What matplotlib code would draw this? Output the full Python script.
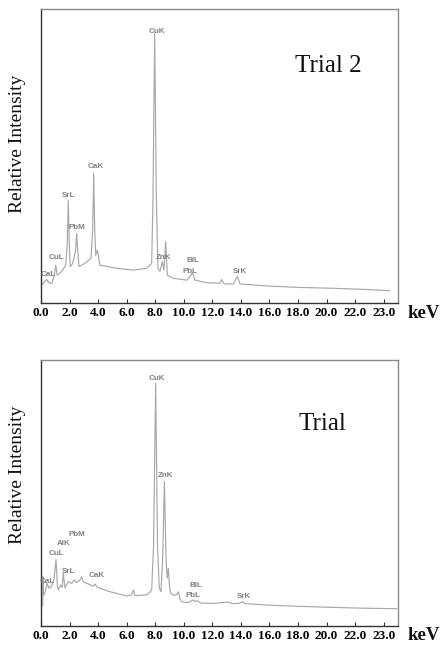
import matplotlib
matplotlib.use("Agg")
import matplotlib.pyplot as plt

# ---------------- data ----------------
energy_top = [0.05, 0.20, 0.40, 0.55, 0.75, 0.91, 1.03, 1.14, 1.45, 1.73, 1.84, 1.91, 1.98,
              2.05, 2.22, 2.43, 2.50, 2.57, 2.66, 3.08, 3.50, 3.62, 3.69, 3.76, 3.83, 3.94,
              4.13, 5.30, 6.47, 7.40, 7.75, 7.84, 7.96, 8.08, 8.19, 8.33, 8.50, 8.61, 8.73,
              8.85, 9.27, 10.20, 10.43, 10.60, 10.78, 11.60, 12.53, 12.65, 12.82, 13.47,
              13.75, 13.94, 15.80, 18.10, 20.50, 22.80, 24.40]
counts_top = [6.1, 7.0, 8.0, 6.9, 6.7, 9.0, 12.9, 9.5, 10.7, 12.9, 20.0, 35.0, 20.0,
              12.4, 13.5, 18.0, 23.7, 18.0, 12.4, 13.5, 15.2, 25.0, 44.1, 25.0, 16.3, 18.0,
              12.9, 11.8, 11.2, 11.8, 13.5, 35.0, 91.7, 35.0, 11.8, 10.7, 14.1, 11.2, 20.9,
              9.5, 8.4, 7.8, 9.0, 10.3, 7.8, 6.9, 6.7, 8.0, 6.5, 6.5,
              9.0, 6.5, 5.8, 5.3, 5.0, 4.6, 4.2]

energy_bot = [0.05, 0.12, 0.15, 0.18, 0.30, 0.42, 0.55, 0.75, 0.92, 1.05, 1.15, 1.21, 1.38,
              1.48, 1.56, 1.68, 1.91, 2.15, 2.31, 2.50, 2.73, 2.85, 2.96, 3.31, 3.66, 3.78,
              3.94, 4.83, 6.00, 6.35, 6.47, 6.58, 7.40, 7.75, 7.88, 8.03, 8.16, 8.28, 8.40,
              8.52, 8.64, 8.76, 8.84, 8.92, 9.00, 9.08, 9.30, 9.50, 9.62, 9.72, 9.85, 10.30,
              10.67, 10.80, 10.95, 11.20, 12.00, 13.10, 13.40, 13.90, 14.10, 14.30, 15.80,
              18.00, 20.50, 22.50, 24.90]
counts_bot = [7.5, 7.8, 18.5, 11.5, 13.0, 16.0, 14.2, 15.0, 18.0, 25.0, 15.0, 13.5, 15.4,
              14.5, 19.8, 14.3, 16.7, 16.0, 17.3, 16.3, 17.3, 18.5, 16.7, 15.8, 15.0, 15.8,
              14.5, 12.9, 11.3, 11.7, 13.5, 11.4, 11.7, 13.5, 30.0, 91.2, 30.0, 14.5, 12.9,
              25.0, 54.3, 25.0, 18.0, 21.7, 15.0, 12.3, 11.5, 11.8, 12.9, 10.5, 9.1, 8.8,
              9.8, 9.2, 9.5, 8.6, 8.5, 9.0, 8.4, 8.5, 9.2, 8.4, 7.9,
              7.4, 7.0, 6.7, 6.5]

tick_pos = [0, 2, 4, 6, 8, 10, 12, 14, 16, 18, 20, 22, 24]
tick_labels = ["0.0", "2.0", "4.0", "6.0", "8.0", "10.0", "12.0", "14.0", "16.0",
               "18.0", "20.0", "22.0", "23.0"]

peaks_top_names = ["CuK", "CaK", "SrL", "PbM", "CuL", "CaL", "ZnK", "BiL", "PbL", "SrK"]
peaks_top_x = [8.10, 3.83, 1.91, 2.54, 1.05, 0.51, 8.57, 10.67, 10.43, 13.94]
peaks_top_y = [92.3, 46.4, 36.4, 25.6, 15.4, 9.8, 15.4, 14.6, 10.7, 10.7]

peaks_bot_names = ["CuK", "ZnK", "PbM", "AlK", "CuL", "SrL", "CaL", "CaK", "BiL", "PbL", "SrK"]
peaks_bot_x = [8.10, 8.73, 2.54, 1.56, 1.05, 1.91, 0.44, 3.90, 10.85, 10.67, 14.24]
peaks_bot_y = [92.9, 56.4, 34.5, 31.1, 27.1, 20.4, 16.7, 18.8, 15.2, 11.3, 11.0]

# ---------------- figure ----------------
W, H = 442, 645
fig = plt.figure(figsize=(W / 100, H / 100), dpi=100)
fig.patch.set_facecolor("white")

serif = ["Liberation Serif", "DejaVu Serif"]
sans = ["Liberation Sans", "DejaVu Sans"]


def make_panel(rect, ex, cy, names, px, py, title, title_xy, ylabel_y, kev_y):
    ax = fig.add_axes(rect)
    ax.plot(ex, cy, color="#a8a8a8", lw=0.85, solid_joinstyle="round")
    ax.set_xlim(0, 25)
    ax.set_ylim(0, 100)
    ax.set_yticks([])
    ax.set_xticks(tick_pos)
    ax.set_xticklabels(tick_labels, fontfamily=serif, fontweight="bold", fontsize=9.5)
    ax.tick_params(axis="x", direction="in", length=3, width=0.8, color="#333333", pad=3)
    for s in ["left", "bottom"]:
        ax.spines[s].set_color("#333333")
        ax.spines[s].set_linewidth(1.0)
    for s in ["top", "right"]:
        ax.spines[s].set_color("#8a8a8a")
        ax.spines[s].set_linewidth(1.0)
    for n, x, y in zip(names, px, py):
        ax.text(x, y, n, fontsize=5.8, color="#808080", fontfamily=sans, fontweight="bold",
                ha="center", va="center")
    ax.text(title_xy[0], title_xy[1], title, fontsize=18, fontfamily=serif, color="#111111",
            ha="center", va="center")
    fig.text(18 / W, 1 - ylabel_y / H, "Relative Intensity", rotation=90, fontsize=14,
             fontfamily=serif, ha="center", va="center", color="#111111")
    fig.text(424 / W, 1 - kev_y / H, "keV", fontsize=13.5, fontfamily=serif, fontweight="bold",
             ha="center", va="center", color="#111111")
    return ax


make_panel([41 / W, 1 - 303 / H, 357 / W, 294 / H], energy_top, counts_top,
           peaks_top_names, peaks_top_x, peaks_top_y, "Trial 2", (20.1, 80.6), 144, 313)
make_panel([41 / W, 1 - 626 / H, 357 / W, 266 / H], energy_bot, counts_bot,
           peaks_bot_names, peaks_bot_x, peaks_bot_y, "Trial", (19.7, 76.0), 475, 635)

fig.savefig("out.png", dpi=100, facecolor="white")
